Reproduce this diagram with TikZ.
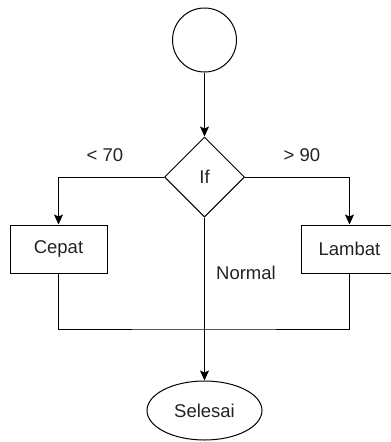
\documentclass[tikz,border=0pt]{standalone}
\usepackage{fontspec}
\setmainfont{Liberation Sans}
\usetikzlibrary{shapes.geometric,arrows.meta}
\definecolor{txt}{HTML}{222222}
\begin{document}
\begin{tikzpicture}[x=1pt,y=-1pt,
  every node/.style={font=\fontsize{18.5}{21}\selectfont, text=txt},
  shapebox/.style={draw=black, line width=1pt, inner sep=0pt},
  conn/.style={draw=black, line width=1pt},
  arr/.style={conn, -{Stealth[length=10pt,width=9pt,inset=2pt]}},
  lbl/.style={inner sep=0pt}]
\useasboundingbox (0,0) rectangle (391,442);
\clip (0,0) rectangle (391,442);
\node[shapebox, circle, minimum size=64pt] (start) at (204.5,40) {};
\node[shapebox, diamond, minimum width=80pt, minimum height=80pt] (if) at (204.5,177) {If};
\node[shapebox, rectangle, minimum width=97pt, minimum height=48pt] (cepat) at (58.5,249) {Cepat};
\node[shapebox, rectangle, minimum width=97pt, minimum height=48pt] (lambat) at (349.5,249) {Lambat};
\node[shapebox, ellipse, minimum width=115pt, minimum height=59pt] (selesai) at (204.5,410.5) {Selesai};
\coordinate (join) at (204.5,329);
\draw[arr] (start) -- (if);
\draw[arr] (if.west) -| (cepat.north);
\draw[arr] (if.east) -| (lambat.north);
\draw[arr] (if.south) -- (selesai.north);
\draw[conn] (cepat.south) |- (join) -| (lambat.south);
\node[lbl] (l70) at (105,155) {< 70};
\node[lbl] (l90) at (302,155) {> 90};
\node[lbl] (lnormal) at (246,273) {Normal};
\end{tikzpicture}
\end{document}
